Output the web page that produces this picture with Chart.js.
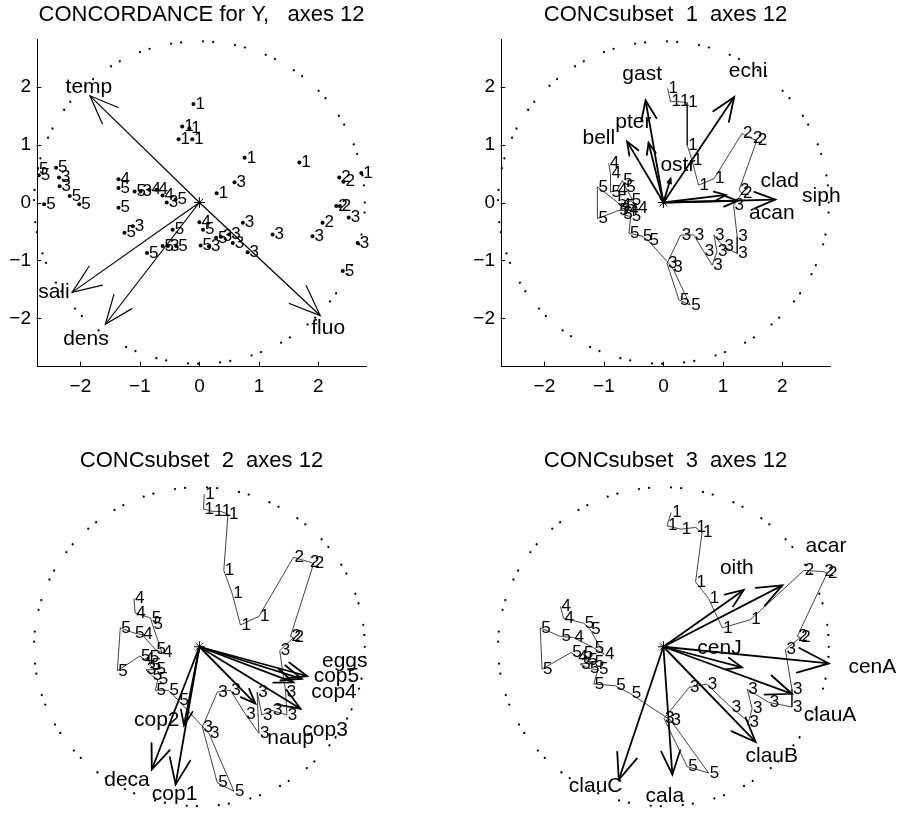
<!DOCTYPE html>
<html>
<head>
<meta charset="utf-8">
<script src="https://cdn.jsdelivr.net/npm/chart.js@4.4.1/dist/chart.umd.min.js"></script>
<style>
  body { margin: 0; background: #fff; overflow: hidden; }
  #wrap { position: relative; width: 902px; height: 815px; }
  canvas { position: absolute; }
</style>
</head>
<body>
<div id="wrap">
  <canvas id="c1" width="451" height="407" style="left:0;top:0;width:451px;height:407px"></canvas>
  <canvas id="c2" width="438" height="407" style="left:464px;top:0;width:438px;height:407px"></canvas>
  <canvas id="c3" width="451" height="369" style="left:0;top:446px;width:451px;height:369px"></canvas>
  <canvas id="c4" width="438" height="369" style="left:464px;top:446px;width:438px;height:369px"></canvas>
</div>
<script>
// axes and circle shared by the four panels
const xTickValues = [-2, -1, 0, 1, 2];
const yTickValues = [-2, -1, 0, 1, 2];
const xMin = -2.73, xMax = 2.8, yMin = -2.82, yMax = 2.82;
const circleRadius = 2.78;

// panel 1 : concordance for Y
const p1Title = 'CONCORDANCE for Y,   axes 12';
const p1X = [-0.10, -0.29, -0.17, -0.35, -0.12, 0.76, 1.68, 0.29, 2.72,
  2.35, 2.42, 2.30, 2.36, 2.07,
  0.59, 2.51, 0.73, 1.23, 1.90, 2.66, 0.81, 0.16, 0.36, 0.50, 0.56, -2.36, -2.35, -0.99, -0.55, -1.12, -0.53,
  0.00, -1.36, -0.84, -0.72, -0.62,
  -2.73, -2.70, -2.41, -2.18, -2.02, -2.61, -1.36, -1.09, -0.40, -1.36, -1.26, -0.45, -0.88, -0.62, -0.39, 0.06, 0.02, 0.28, 2.41];
const p1Y = [1.70, 1.31, 1.28, 1.09, 1.09, 0.77, 0.69, 0.16, 0.51,
  0.43, 0.36, -0.06, -0.06, -0.35,
  0.35, -0.26, -0.35, -0.55, -0.58, -0.70, -0.86, -0.76, -0.59, -0.55, -0.70, 0.43, 0.28, 0.19, 0.00, -0.41, -0.75,
  -0.34, 0.40, 0.22, 0.22, 0.12,
  0.58, 0.47, 0.60, 0.11, -0.03, -0.03, 0.25, 0.19, 0.05, -0.09, -0.52, -0.47, -0.87, -0.75, -0.75, -0.47, -0.74, -0.61, -1.18];
const p1G = ['1', '1', '1', '1', '1', '1', '1', '1', '1',
  '2', '2', '2', '2', '2',
  '3', '3', '3', '3', '3', '3', '3', '3', '3', '3', '3', '3', '3', '3', '3', '3', '3',
  '4', '4', '4', '4', '4',
  '5', '5', '5', '5', '5', '5', '5', '5', '5', '5', '5', '5', '5', '5', '5', '5', '5', '5', '5'];
const p1Vars = ['temp', 'sali', 'dens', 'fluo'];
const p1VarX = [-1.84, -2.14, -1.58, 2.03];
const p1VarY = [1.84, -1.55, -2.10, -1.95];
const p1LabX = [-2.25, -2.71, -2.29, 1.88];
const p1LabY = [1.98, -1.55, -2.36, -2.16];

// panel 2 : subset 1
const p2Title = 'CONCsubset  1  axes 12';
const p2X = [0.07, 0.12, 0.26, 0.40, 0.40, 0.48, 0.59, 0.85,
  1.32, 1.49, 1.57, 1.27, 1.32,
  1.18, 1.24, 1.24, 1.01, 0.85, 0.90, 0.82, 0.68, 0.51, 0.29, 0.06,
  0.26, 0.45, 0.15, -0.25, -0.36, -0.58,
  -0.55, -0.69, -0.59, -0.76, -1.11, -1.11, -0.79, -0.72, -0.64, -0.55, -0.44, -0.64, -0.69, -0.78, -0.89, -0.89, -0.92];
const p2Y = [1.97, 1.74, 1.74, 1.72, 0.99, 0.73, 0.30, 0.41,
  1.19, 1.10, 1.07, 0.21, 0.16,
  -0.05, -0.59, -0.88, -0.76, -0.56, -0.85, -1.08, -0.85, -0.56, -0.56, -1.05,
  -1.68, -1.77, -1.12, -0.66, -0.58, -0.53,
  -0.24, -0.21, -0.14, -0.14, -0.28, 0.27, 0.02, -0.05, -0.07, 0.04, -0.10, 0.27, 0.38, 0.21, 0.18, 0.50, 0.67];
const p2G = ['1', '1', '1', '1', '1', '1', '1', '1',
  '2', '2', '2', '2', '2',
  '3', '3', '3', '3', '3', '3', '3', '3', '3', '3', '3',
  '5', '5', '3', '5', '5', '5',
  '5', '5', '4', '5', '5', '5', '5', '4', '5', '5', '4', '5', '5', '4', '5', '4', '4'];
const p2Vars = ['gast', 'pter', 'bell', 'ostr', 'echi', 'clad', 'acan', 'siph'];
const p2VarX = [-0.30, -0.25, -0.61, 0.12, 1.19, 1.05, 1.25, 1.88];
const p2VarY = [1.76, 1.03, 1.05, 0.41, 1.82, 0.13, 0.03, 0.05];
const p2LabX = [-0.69, -0.81, -1.36, -0.05, 1.10, 1.63, 1.44, 2.33];
const p2LabY = [2.22, 1.39, 1.11, 0.64, 2.27, 0.37, -0.19, 0.10];

// panel 3 : subset 2
const p3Title = 'CONCsubset  2  axes 12';
const p3X = [0.08, 0.07, 0.23, 0.36, 0.48, 0.41, 0.55, 0.69, 1.00,
  1.58, 1.84, 1.92, 1.53, 1.58,
  1.35, 1.45, 1.47, 1.22, 1.05, 0.97, 1.00, 0.77, 0.52, 0.30, 0.05,
  0.30, 0.58, 0.16, -0.35, -0.52, -0.74,
  -0.70, -0.80, -0.90, -0.74, -0.82, -0.85, -0.93, -1.00, -1.38, -1.33, -1.10, -0.96, -0.74, -0.63, -0.79, -0.82, -1.08, -1.10];
const p3Y = [2.66, 2.40, 2.36, 2.36, 2.31, 1.33, 0.93, 0.38, 0.53,
  1.56, 1.48, 1.45, 0.18, 0.16,
  -0.07, -0.79, -1.19, -1.11, -1.19, -0.79, -1.51, -1.17, -0.76, -0.79, -1.40,
  -2.37, -2.52, -1.51, -0.94, -0.76, -0.76,
  -0.57, -0.50, -0.40, -0.40, -0.33, -0.19, -0.22, -0.16, -0.42, 0.33, 0.24, 0.21, -0.05, -0.10, 0.39, 0.50, 0.59, 0.84];
const p3G = ['1', '1', '1', '1', '1', '1', '1', '1', '1',
  '2', '2', '2', '2', '2',
  '3', '3', '3', '3', '3', '3', '3', '3', '3', '3', '3',
  '5', '5', '3', '5', '5', '5',
  '5', '5', '3', '5', '5', '5', '4', '5', '5', '5', '5', '4', '5', '4', '5', '5', '4', '4'];
const p3Vars = ['eggs', 'cop5', 'cop4', 'cop3', 'naup', 'cop2', 'deca', 'cop1'];
const p3VarX = [1.81, 1.72, 1.58, 1.70, 0.94, -0.26, -0.80, -0.40];
const p3VarY = [-0.51, -0.56, -0.62, -1.08, -0.99, -1.37, -2.14, -2.40];
const p3LabX = [2.06, 1.92, 1.88, 1.73, 1.14, -1.10, -1.60, -0.80];
const p3LabY = [-0.25, -0.51, -0.79, -1.45, -1.60, -1.28, -2.32, -2.57];

// panel 4 : subset 3
const p4Title = 'CONCsubset  3  axes 12';
const p4X = [0.13, 0.06, 0.29, 0.54, 0.65, 0.54, 0.76, 0.99, 1.46,
  2.36, 2.69, 2.75, 2.25, 2.30,
  2.05, 2.16, 2.16, 1.77, 1.41, 1.49, 1.43, 1.13, 0.73, 0.43, 0.01,
  0.40, 0.76, 0.12, -0.55, -0.81, -1.17,
  -1.10, -1.25, -1.40, -1.17, -1.28, -1.35, -1.45, -1.55, -2.04, -2.07, -1.73, -1.51, -1.17, -1.00, -1.23, -1.34, -1.68, -1.73];
const p4Y = [2.34, 2.11, 2.05, 2.08, 1.99, 1.13, 0.84, 0.33, 0.47,
  1.33, 1.31, 1.28, 0.18, 0.16,
  -0.05, -0.74, -1.05, -0.97, -0.74, -1.08, -1.31, -1.05, -0.65, -0.71, -1.25,
  -2.09, -2.20, -1.28, -0.82, -0.68, -0.65,
  -0.40, -0.38, -0.30, -0.28, -0.24, -0.12, -0.18, -0.10, -0.39, 0.33, 0.18, 0.16, -0.02, -0.13, 0.30, 0.41, 0.50, 0.70];
const p4G = ['1', '1', '1', '1', '1', '1', '1', '1', '1',
  '2', '2', '2', '2', '2',
  '3', '3', '3', '3', '3', '3', '3', '3', '3', '3', '3',
  '5', '5', '3', '5', '5', '5',
  '5', '5', '3', '5', '5', '5', '4', '5', '5', '5', '5', '4', '5', '4', '5', '5', '4', '4'];
const p4Vars = ['oith', 'acar', 'cenJ', 'cenA', 'clauA', 'clauB', 'cala', 'clauC'];
const p4VarX = [1.35, 2.00, 1.32, 2.78, 2.16, 1.55, 0.15, -0.75];
const p4VarY = [0.99, 1.07, -0.36, -0.29, -0.82, -1.66, -2.23, -2.32];
const p4LabX = [0.95, 2.39, 0.57, 3.11, 2.36, 1.38, -0.30, -1.59];
const p4LabY = [1.37, 1.76, -0.03, -0.36, -1.19, -1.91, -2.60, -2.43];

const FONT = '"Liberation Sans", Arial, Helvetica, sans-serif';
Chart.defaults.font.family = FONT;
Chart.defaults.color = '#000';

function tickText(v) {
  return v < 0 ? '\u2212' + (-v) : String(v);
}

// circle, arrow heads, text labels and inward tick marks
function biplot(p) {
  return {
    id: 'biplot',
    beforeDatasetsDraw(chart) {
      const ctx = chart.ctx, xs = chart.scales.x, ys = chart.scales.y;
      const cx = xs.getPixelForValue(0), cy = ys.getPixelForValue(0);
      const rx = xs.getPixelForValue(circleRadius) - cx;
      const ry = cy - ys.getPixelForValue(circleRadius);
      ctx.save();
      ctx.strokeStyle = '#000';
      ctx.lineWidth = 2.2;
      ctx.lineCap = 'round';
      ctx.setLineDash([0.1, 10, 0.1, 22]);
      ctx.beginPath();
      ctx.ellipse(cx, cy, rx, ry, 0, 0, Math.PI * 2);
      ctx.stroke();
      ctx.restore();
    },
    afterDatasetsDraw(chart) {
      const ctx = chart.ctx, xs = chart.scales.x, ys = chart.scales.y;
      const ox = xs.getPixelForValue(0), oy = ys.getPixelForValue(0);
      ctx.save();
      ctx.strokeStyle = '#000';
      ctx.lineWidth = p.arrowWidth;
      ctx.lineCap = 'round';
      p.varX.forEach((vx, i) => {
        const tx = xs.getPixelForValue(vx), ty = ys.getPixelForValue(p.varY[i]);
        const len = Math.hypot(ox - tx, oy - ty);
        const ang = Math.atan2(oy - ty, ox - tx);
        const h = 0.2 * len, a = 0.38;
        ctx.beginPath();
        ctx.moveTo(tx + h * Math.cos(ang + a), ty + h * Math.sin(ang + a));
        ctx.lineTo(tx, ty);
        ctx.lineTo(tx + h * Math.cos(ang - a), ty + h * Math.sin(ang - a));
        ctx.stroke();
      });

      ctx.fillStyle = '#000';
      ctx.textAlign = 'left';
      ctx.textBaseline = 'middle';
      ctx.font = '17px ' + FONT;
      chart.getDatasetMeta(0).data.forEach((pt, i) => {
        ctx.fillText(p.groups[i], pt.x + p.textGap, pt.y);
      });
      ctx.font = '21px ' + FONT;
      p.vars.forEach((n, i) => {
        ctx.fillText(n, xs.getPixelForValue(p.labX[i]), ys.getPixelForValue(p.labY[i]));
      });

      if (p.axes) {
        const area = chart.chartArea;
        ctx.lineWidth = 1;
        ctx.beginPath();
        xTickValues.forEach(v => {
          const px = Math.round(xs.getPixelForValue(v)) + 0.5;
          ctx.moveTo(px, area.bottom);
          ctx.lineTo(px, area.bottom - 4);
        });
        yTickValues.forEach(v => {
          const py = Math.round(ys.getPixelForValue(v)) + 0.5;
          ctx.moveTo(area.left, py);
          ctx.lineTo(area.left + 4, py);
        });
        ctx.stroke();
      }
      ctx.restore();
    }
  };
}

function makePanel(id, title, xs, ys, groups, vars, varX, varY, labX, labY, opt) {
  const datasets = [{
    label: 'samples',
    data: xs.map((x, i) => ({ x: x, y: ys[i] })),
    showLine: opt.joined,
    borderColor: '#111',
    borderWidth: 0.8,
    pointRadius: opt.joined ? 0 : 2,
    pointBackgroundColor: '#000',
    pointBorderWidth: 0
  }];
  vars.forEach((n, i) => {
    datasets.push({
      label: n,
      data: [{ x: 0, y: 0 }, { x: varX[i], y: varY[i] }],
      showLine: true,
      borderColor: '#000',
      borderWidth: opt.arrowWidth,
      pointRadius: 0
    });
  });
  datasets.push({
    label: 'origin',
    data: [{ x: 0, y: 0 }],
    pointStyle: 'star',
    pointRadius: 5.5,
    borderColor: '#000',
    borderWidth: 1
  });

  new Chart(document.getElementById(id), {
    type: 'scatter',
    data: { datasets: datasets },
    options: {
      responsive: false,
      animation: false,
      events: [],
      layout: { padding: { left: 0, right: opt.padRight, top: 0, bottom: 0 } },
      plugins: {
        legend: { display: false },
        tooltip: { enabled: false },
        title: {
          display: true,
          text: title,
          fullSize: false,
          color: '#000',
          font: { size: 22, weight: 'normal' },
          padding: { top: 2, bottom: 10.6 }
        }
      },
      scales: {
        x: {
          type: 'linear',
          min: xMin,
          max: xMax,
          grid: { display: false, drawTicks: false },
          border: { display: opt.axes, color: '#000', width: 1 },
          ticks: { display: opt.axes, color: '#000', font: { size: 19 }, padding: 9, maxRotation: 0, callback: tickText },
          afterBuildTicks: axis => { axis.ticks = xTickValues.map(v => ({ value: v })); },
          afterFit: axis => { axis.height = opt.xAxisHeight; }
        },
        y: {
          type: 'linear',
          position: 'left',
          min: yMin,
          max: yMax,
          grid: { display: false, drawTicks: false },
          border: { display: opt.axes, color: '#000', width: 1 },
          ticks: { display: opt.axes, color: '#000', font: { size: 19 }, padding: 6, callback: tickText },
          afterBuildTicks: axis => { axis.ticks = yTickValues.map(v => ({ value: v })); },
          afterFit: axis => { axis.width = 37; }
        }
      }
    },
    plugins: [biplot({
      groups: groups, vars: vars, varX: varX, varY: varY, labX: labX, labY: labY,
      arrowWidth: opt.arrowWidth, axes: opt.axes, textGap: opt.joined ? 1 : 2
    })]
  });
}

makePanel('c1', p1Title, p1X, p1Y, p1G, p1Vars, p1VarX, p1VarY, p1LabX, p1LabY,
  { joined: false, axes: true, arrowWidth: 1.2, padRight: 85, xAxisHeight: 41 });
makePanel('c2', p2Title, p2X, p2Y, p2G, p2Vars, p2VarX, p2VarY, p2LabX, p2LabY,
  { joined: true, axes: true, arrowWidth: 1.8, padRight: 72, xAxisHeight: 41 });
makePanel('c3', p3Title, p3X, p3Y, p3G, p3Vars, p3VarX, p3VarY, p3LabX, p3LabY,
  { joined: true, axes: false, arrowWidth: 1.8, padRight: 85, xAxisHeight: 3 });
makePanel('c4', p4Title, p4X, p4Y, p4G, p4Vars, p4VarX, p4VarY, p4LabX, p4LabY,
  { joined: true, axes: false, arrowWidth: 1.8, padRight: 72, xAxisHeight: 3 });
</script>
</body>
</html>
